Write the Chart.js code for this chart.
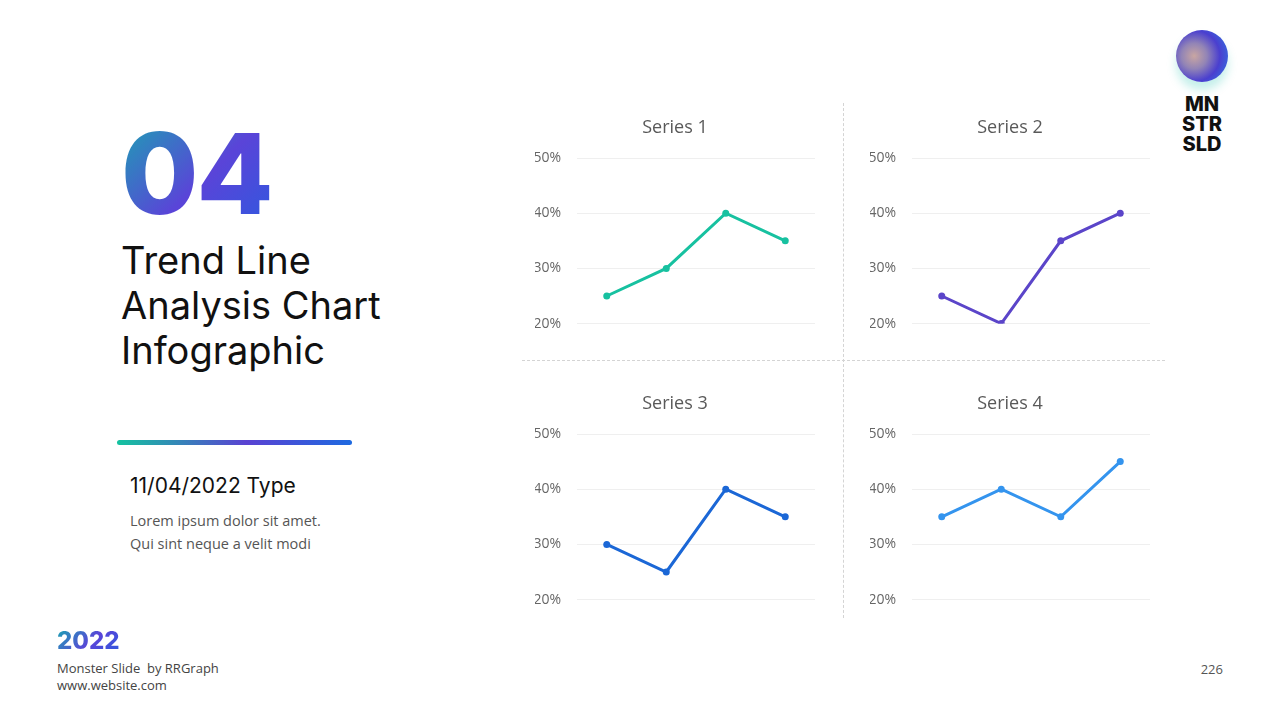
<!DOCTYPE html>
<html>
<head>
<meta charset="utf-8">
<script src="https://cdn.jsdelivr.net/npm/chart.js@4.4.1/dist/chart.umd.min.js"></script>
<style>
  html, body { margin: 0; padding: 0; background: #fff; }
  body { width: 1280px; height: 720px; position: relative; overflow: hidden; font-family: "Open Sans", sans-serif; }
  .abs { position: absolute; }
  .grad-text {
    background: linear-gradient(135deg, #17a9b0 0%, #5a44d8 55%, #2c5ae0 100%);
    -webkit-background-clip: text; background-clip: text; color: transparent;
  }
  #big { left: 121px; top: 108px; font-family: Inter, sans-serif; font-weight: 800; font-size: 112px; line-height: 130px; letter-spacing: -2px; }
  #heading { left: 121px; top: 238px; font-family: Inter, sans-serif; font-size: 38px; line-height: 45px; color: #111; }
  #bar { left: 117px; top: 440px; width: 235px; height: 5px; border-radius: 3px;
    background: linear-gradient(90deg, #14c3a0 0%, #5a42d2 55%, #1e6ae0 100%); }
  #date { left: 130px; top: 473px; font-family: Inter, sans-serif; font-size: 21px; color: #111; }
  #lorem { left: 130px; top: 509px; font-size: 14.5px; line-height: 23px; color: #555; }
  #year { left: 57px; top: 626px; font-family: Inter, sans-serif; font-weight: 800; font-size: 24px; }
  #foot { left: 57px; top: 660px; font-size: 13px; line-height: 17px; color: #444; }
  #page { right: 57px; top: 660px; font-size: 13px; color: #555; }
  #orb { left: 1176px; top: 30px; width: 52px; height: 52px; border-radius: 50%;
    background: radial-gradient(circle at 35% 50%, #c9a6a2 0%, #9284b6 30%, #4a3fcf 60%, #2a7fe6 100%);
    box-shadow: 0 8px 10px rgba(20, 190, 170, 0.25); }
  #logo { left: 1162px; top: 94px; width: 80px; text-align: center; font-family: Inter, sans-serif; font-weight: 800; font-size: 20px; line-height: 20px; color: #111; }
  .vdash { left: 843px; top: 103px; height: 515px; border-left: 1px dashed #d4d4d4; }
  .hdash { left: 522px; top: 360px; width: 643px; border-top: 1px dashed #d4d4d4; }
  .box { position: absolute; width: 310px; height: 248px; }
</style>
</head>
<body>
<div id="big" class="abs grad-text">04</div>
<div id="heading" class="abs">Trend Line<br>Analysis Chart<br>Infographic</div>
<div id="bar" class="abs"></div>
<div id="date" class="abs">11/04/2022 Type</div>
<div id="lorem" class="abs">Lorem ipsum dolor sit amet.<br>Qui sint neque a velit modi</div>
<div id="year" class="abs grad-text">2022</div>
<div id="foot" class="abs">Monster Slide&nbsp; by RRGraph<br>www.website.com</div>
<div id="page" class="abs">226</div>
<div id="orb" class="abs"></div>
<div id="logo" class="abs">MN<br>STR<br>SLD</div>
<div class="abs vdash"></div>
<div class="abs hdash"></div>

<div class="box" style="left:520px; top:100px;"><canvas id="c1"></canvas></div>
<div class="box" style="left:855px; top:100px;"><canvas id="c2"></canvas></div>
<div class="box" style="left:520px; top:376px;"><canvas id="c3"></canvas></div>
<div class="box" style="left:855px; top:376px;"><canvas id="c4"></canvas></div>

<script>
const categories = ["Q1", "Q2", "Q3", "Q4"];
const seriesNames = ["Series 1", "Series 2", "Series 3", "Series 4"];
const series1 = [25, 30, 40, 35];
const series2 = [25, 20, 35, 40];
const series3 = [30, 25, 40, 35];
const series4 = [35, 40, 35, 45];
const yTicks = [20, 30, 40, 50];

const allSeries = [series1, series2, series3, series4];
const colors = ["#17c1a0", "#5b45c9", "#1b67d6", "#3494ee"];

function makeChart(id, idx) {
    const ctx = document.getElementById(id).getContext("2d");
    return new Chart(ctx, {
        type: "line",
        data: {
            labels: categories,
            datasets: [
                {
                    label: seriesNames[idx],
                    data: allSeries[idx],
                    borderColor: colors[idx],
                    backgroundColor: colors[idx],
                    borderWidth: 3,
                    pointRadius: 3.5,
                    pointBorderWidth: 0,
                    tension: 0,
                },
            ],
        },
        options: {
            responsive: true,
            maintainAspectRatio: false,
            animation: false,
            // left padding keeps the title centred like the original
            layout: { padding: { left: 15, right: 15, bottom: 10 } },
            plugins: {
                legend: { display: false },
                tooltip: { enabled: false },
                title: {
                    display: true,
                    text: seriesNames[idx],
                    color: "#595959",
                    font: { family: "Open Sans", size: 18, weight: "normal", lineHeight: 1.2 },
                    padding: { top: 17, bottom: 19.4 },
                },
            },
            scales: {
                x: { display: false, offset: true },
                y: {
                    min: yTicks[0],
                    max: yTicks[yTicks.length - 1],
                    afterBuildTicks: (scale) => {
                        scale.ticks = yTicks.map((v) => ({ value: v }));
                    },
                    afterFit: (scale) => {
                        scale.width = 42;
                    },
                    border: { display: false },
                    grid: { color: "#efefef", drawTicks: false },
                    ticks: {
                        color: "#666",
                        padding: 16,
                        font: { family: "Open Sans", size: 14 },
                        callback: (v) => v + "%",
                    },
                },
            },
        },
    });
}

makeChart("c1", 0);
makeChart("c2", 1);
makeChart("c3", 2);
makeChart("c4", 3);
</script>
</body>
</html>
